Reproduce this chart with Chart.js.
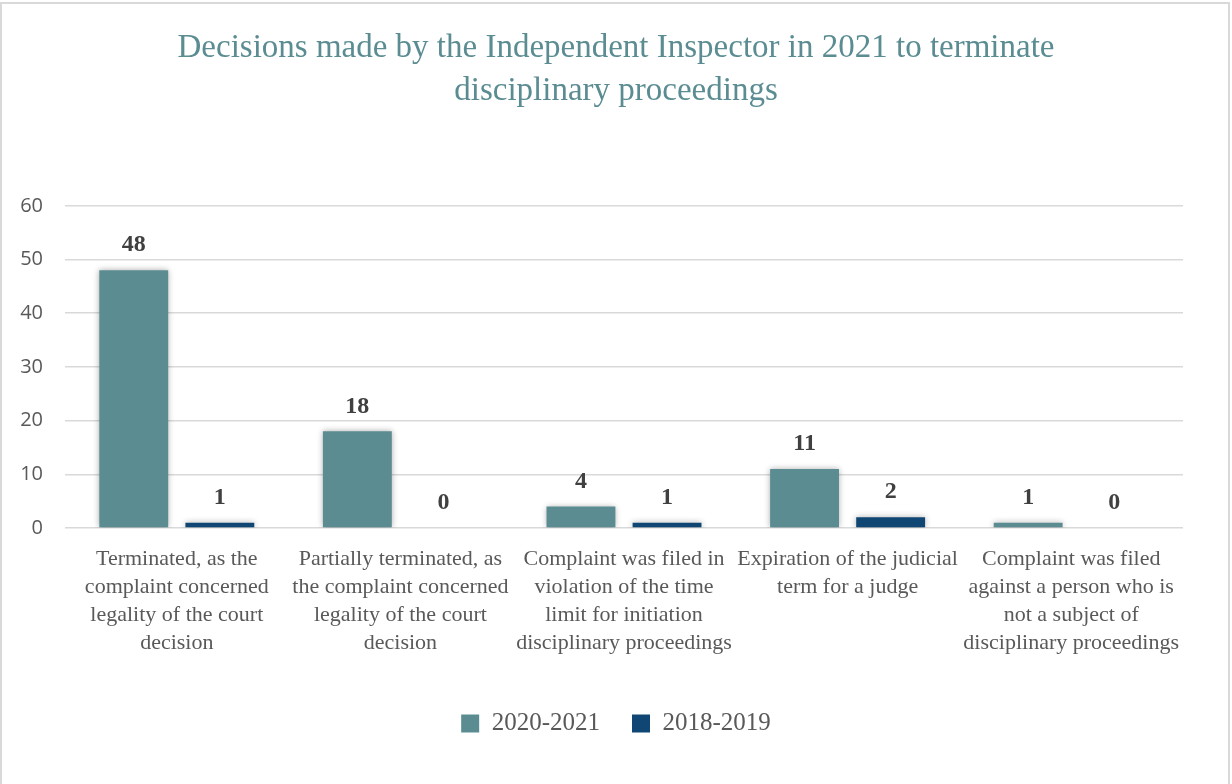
<!DOCTYPE html>
<html>
<head>
<meta charset="utf-8">
<script src="https://cdn.jsdelivr.net/npm/chart.js@4.4.1/dist/chart.umd.min.js"></script>
<style>
  html, body { margin: 0; padding: 0; background: #ffffff; }
  #wrap { width: 1232px; height: 784px; position: relative; }
</style>
</head>
<body>
<div id="wrap"><canvas id="chart" width="1232" height="784"></canvas></div>
<script>
const titleLines = [
  'Decisions made by the Independent Inspector in 2021 to terminate',
  'disciplinary proceedings'
];
const categories = [
  ['Terminated, as the', 'complaint concerned', 'legality of the court', 'decision'],
  ['Partially terminated, as', 'the complaint concerned', 'legality of the court', 'decision'],
  ['Complaint was filed in', 'violation of the time', 'limit for initiation', 'disciplinary proceedings'],
  ['Expiration of the judicial', 'term for a judge'],
  ['Complaint was filed', 'against a person who is', 'not a subject of', 'disciplinary proceedings']
];
const seriesNames = ['2020-2021', '2018-2019'];
const values2020 = [48, 18, 4, 11, 1];
const values2018 = [1, 0, 1, 2, 0];
const yTicks = [0, 10, 20, 30, 40, 50, 60];

const TEAL = '#5a8c92';
const NAVY = '#0f4673';
const SERIF = '"Liberation Serif", "DejaVu Serif", serif';
const SANS = '"Open Sans", "Noto Sans", "Liberation Sans", sans-serif';

// Thin frame around the chart
const framePlugin = {
  id: 'frame',
  beforeDraw(chart) {
    const ctx = chart.ctx;
    ctx.save();
    ctx.fillStyle = '#ffffff';
    ctx.fillRect(0, 0, chart.width, chart.height);
    ctx.strokeStyle = '#d9d9d9';
    ctx.lineWidth = 2;
    ctx.beginPath();
    ctx.moveTo(1, chart.height);
    ctx.lineTo(1, 3);
    ctx.lineTo(1229, 3);
    ctx.lineTo(1229, chart.height);
    ctx.stroke();
    ctx.restore();
  }
};

// Soft grey halo behind the bars
const shadowPlugin = {
  id: 'barShadow',
  beforeDatasetDraw(chart) {
    const ctx = chart.ctx;
    ctx.save();
    ctx.shadowColor = 'rgba(0,0,0,0.32)';
    ctx.shadowBlur = 6;
    ctx.shadowOffsetX = 0;
    ctx.shadowOffsetY = 0;
  },
  afterDatasetDraw(chart) {
    chart.ctx.restore();
  }
};

// Value labels above each bar
const valueLabelPlugin = {
  id: 'valueLabels',
  afterDatasetsDraw(chart) {
    const ctx = chart.ctx;
    ctx.save();
    ctx.font = 'bold 24px ' + SERIF;
    ctx.fillStyle = '#404040';
    ctx.textAlign = 'center';
    ctx.textBaseline = 'bottom';
    chart.data.datasets.forEach((ds, di) => {
      const meta = chart.getDatasetMeta(di);
      meta.data.forEach((bar, i) => {
        ctx.fillText(String(ds.data[i]), bar.x, bar.y - 13);
      });
    });
    ctx.restore();
  }
};

new Chart(document.getElementById('chart'), {
  type: 'bar',
  data: {
    labels: categories,
    datasets: [
      { label: seriesNames[0], data: values2020, backgroundColor: TEAL },
      { label: seriesNames[1], data: values2018, backgroundColor: NAVY }
    ]
  },
  options: {
    responsive: false,
    animation: false,
    categoryPercentage: 0.77,
    barPercentage: 0.80,
    layout: { padding: { left: 0, right: 0, top: 0, bottom: 38 } },
    plugins: {
      title: {
        display: true,
        text: titleLines,
        color: '#5a8c92',
        font: { family: SERIF, size: 33, weight: 'normal', lineHeight: 1.3 },
        padding: { top: 27, bottom: 93 }
      },
      legend: {
        position: 'bottom',
        labels: {
          color: '#595959',
          font: { family: SERIF, size: 25 },
          boxWidth: 18,
          boxHeight: 18,
          padding: 32
        }
      },
      tooltip: { enabled: false }
    },
    scales: {
      x: {
        grid: { display: false, drawTicks: false },
        border: { display: false },
        afterFit(axis) { axis.height = 151; },
        ticks: {
          color: '#595959',
          font: { family: SERIF, size: 22, lineHeight: 1.273 },
          padding: 17,
          maxRotation: 0,
          autoSkip: false
        }
      },
      y: {
        min: 0,
        max: 60,
        afterBuildTicks(axis) { axis.ticks = yTicks.map(v => ({ value: v })); },
        grid: { color: '#d9d9d9', lineWidth: 1.5, drawTicks: false },
        border: { display: false },
        ticks: {
          color: '#595959',
          font: { family: SANS, size: 20 },
          padding: 22
        },
        afterFit(axis) { axis.width = 65; }
      },
      // empty right-hand margin so the plot ends before the frame
      yRight: {
        position: 'right',
        min: 0,
        max: 60,
        grid: { display: false, drawTicks: false },
        border: { display: false },
        ticks: { display: false },
        afterFit(axis) { axis.width = 49; }
      }
    }
  },
  plugins: [framePlugin, shadowPlugin, valueLabelPlugin]
});
</script>
</body>
</html>
